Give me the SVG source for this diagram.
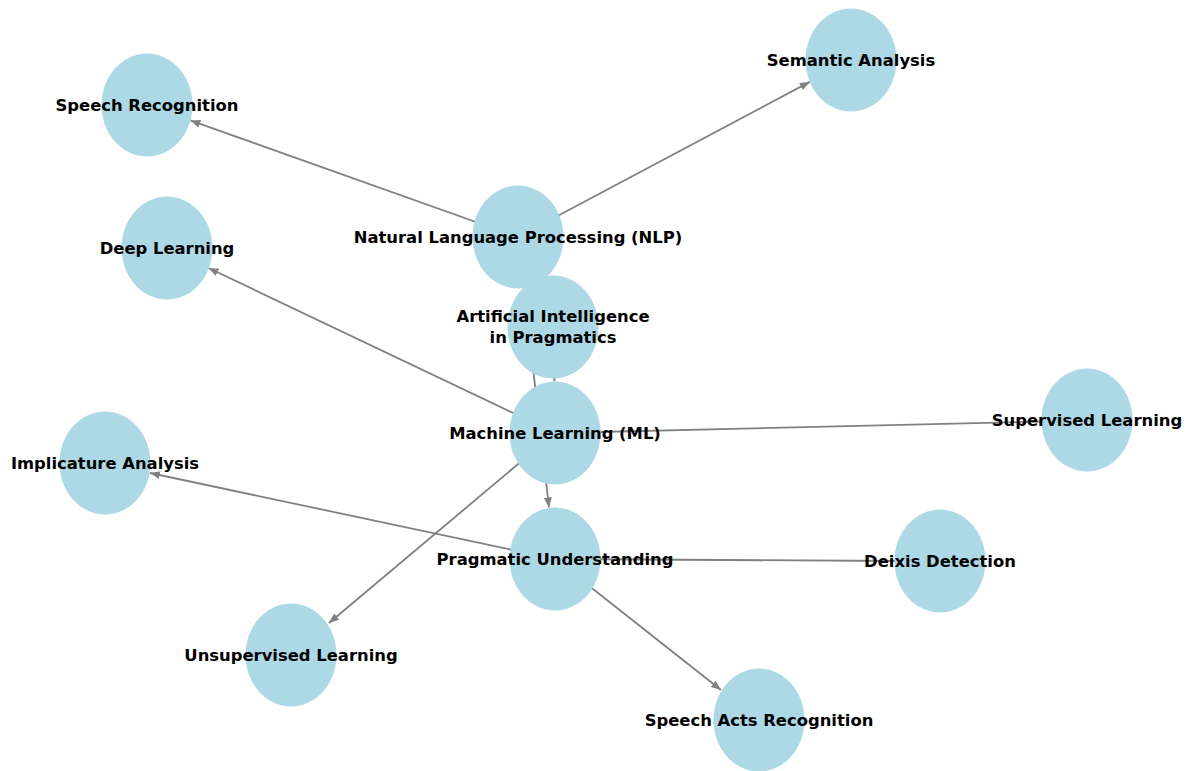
<svg xmlns="http://www.w3.org/2000/svg" width="1189" height="771" viewBox="0 0 1189 771">
<defs>
<style>
.edge{stroke:#808080;stroke-width:1.8;fill:none}
.node ellipse{fill:#ADD8E6}
.node text{font-family:"DejaVu Sans",sans-serif;font-weight:bold;font-size:16.4px;fill:#000;text-anchor:middle;dominant-baseline:central}
</style>
<marker id="arr" markerWidth="10" markerHeight="8" refX="10" refY="4" orient="auto" markerUnits="userSpaceOnUse">
<path d="M0,0 L10,4 L0,8 z" fill="#808080"/>
</marker>
</defs>
<rect width="1189" height="771" fill="#fff"/>
<g id="connectors">
<line class="edge" x1="518" y1="237" x2="190.4" y2="120.4" marker-end="url(#arr)"/>
<line class="edge" x1="518" y1="237" x2="809.8" y2="81.9" marker-end="url(#arr)"/>
<line class="edge" x1="555" y1="433" x2="208.5" y2="268" marker-end="url(#arr)"/>
<line class="edge" x1="555" y1="433" x2="1042" y2="421.5"/>
<line class="edge" x1="555" y1="433" x2="329" y2="623" marker-end="url(#arr)"/>
<line class="edge" x1="518" y1="237" x2="549" y2="507.5" marker-end="url(#arr)"/>
<line class="edge" x1="553" y1="327" x2="554.4" y2="381.5" marker-end="url(#arr)"/>
<line class="edge" x1="555" y1="559" x2="150" y2="473" marker-end="url(#arr)"/>
<line class="edge" x1="555" y1="559" x2="895" y2="561"/>
<line class="edge" x1="555" y1="559" x2="721" y2="690" marker-end="url(#arr)"/>
</g>
<g id="n-semantic" class="node"><ellipse cx="851" cy="60" rx="45.5" ry="51.5"/><text x="851" y="60">Semantic Analysis</text></g>
<g id="n-speechrec" class="node"><ellipse cx="147" cy="105" rx="45.5" ry="51.5"/><text x="147" y="105">Speech Recognition</text></g>
<g id="n-nlp" class="node"><ellipse cx="518" cy="237" rx="45.5" ry="51.5"/><text x="518" y="237">Natural Language Processing (NLP)</text></g>
<g id="n-deep" class="node"><ellipse cx="167" cy="248" rx="45.5" ry="51.5"/><text x="167" y="248">Deep Learning</text></g>
<g id="n-ai" class="node"><ellipse cx="553" cy="327" rx="45.5" ry="51.5"/><text x="553" y="316">Artificial Intelligence</text><text x="553" y="337">in Pragmatics</text></g>
<g id="n-ml" class="node"><ellipse cx="555" cy="433" rx="45.5" ry="51.5"/><text x="555" y="433">Machine Learning (ML)</text></g>
<g id="n-supervised" class="node"><ellipse cx="1087" cy="420" rx="45.5" ry="51.5"/><text x="1087" y="420">Supervised Learning</text></g>
<g id="n-implicature" class="node"><ellipse cx="105" cy="463" rx="45.5" ry="51.5"/><text x="105" y="463">Implicature Analysis</text></g>
<g id="n-pragmatic" class="node"><ellipse cx="555" cy="559" rx="45.5" ry="51.5"/><text x="555" y="559">Pragmatic Understanding</text></g>
<g id="n-deixis" class="node"><ellipse cx="940" cy="561" rx="45.5" ry="51.5"/><text x="940" y="561">Deixis Detection</text></g>
<g id="n-unsupervised" class="node"><ellipse cx="291" cy="655" rx="45.5" ry="51.5"/><text x="291" y="655">Unsupervised Learning</text></g>
<g id="n-speechacts" class="node"><ellipse cx="759" cy="720" rx="45.5" ry="51.5"/><text x="759" y="720">Speech Acts Recognition</text></g>
</svg>
